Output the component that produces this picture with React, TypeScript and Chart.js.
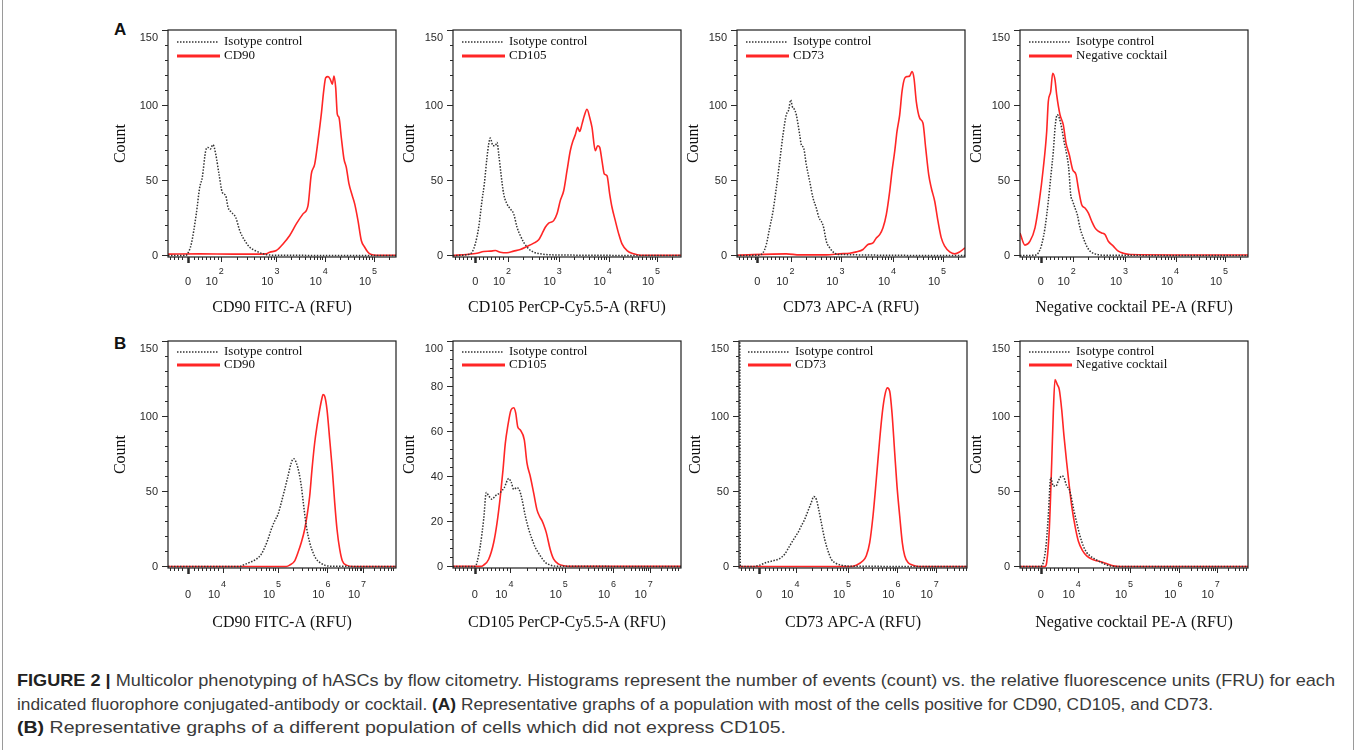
import React, { useEffect, useLayoutEffect, useRef } from "react";
import { Chart, registerables } from "chart.js";

Chart.register(...registerables);

// ---------------- DATA (x = display channel from left edge of plot, y = event count) ----------------
// Row A
const a1IsoX = [0, 16.7, 19, 23.3, 28.3, 31.7, 34.3, 37.7, 40, 42.3, 45, 47.7, 51, 54.3, 57.7, 60, 63.3, 67.7, 71.7, 76.7, 81.7, 88.3, 95, 105, 228];
const a1IsoY = [0, 0, 0.7, 7.7, 27.7, 45.3, 52, 69.7, 71.9, 70.8, 73.7, 67.5, 54.2, 42, 39.8, 32.1, 28.8, 25.4, 16.6, 10, 5.5, 2.9, 1.1, 0.2, 0];
const a1RedX = [0, 31.7, 65, 98.3, 101.7, 108.3, 115, 121.7, 128.3, 135, 140, 143.3, 146.7, 150, 153.3, 155.7, 157.7, 160, 162.3, 164.3, 166, 167.7, 169.3, 171, 173.3, 176, 178.3, 181, 184.3, 186.7, 190, 193.3, 196.7, 200, 203.3, 208.3, 228];
const a1RedY = [0.9, 1.1, 0.9, 1.1, 2.2, 3.3, 7.7, 13.3, 21, 27.7, 33.2, 54.2, 60.8, 76.3, 94, 109.5, 118.3, 119, 117.2, 113.9, 119.4, 111.7, 94, 91.8, 78.5, 64.1, 58.6, 47.6, 39.8, 34.3, 23.2, 10, 5.5, 2.2, 0.7, 0.2, 0.2];

const a2IsoX = [0, 15.7, 19, 22.3, 25.7, 29, 31.3, 34, 35.7, 37.3, 40, 42.3, 44, 45.7, 48, 50.7, 54, 57.3, 60.7, 64, 67.3, 70.7, 75.7, 80.7, 87.3, 100.7, 229];
const a2IsoY = [0, 0.7, 2.2, 7.7, 18.8, 36.5, 47.6, 65.3, 74.1, 78.1, 73, 73, 75.2, 67.5, 54.2, 40.9, 34.3, 31, 27.7, 18.8, 13.3, 8.8, 4.4, 2.2, 1.1, 0.4, 0];
const a2RedX = [0, 14, 24, 30.7, 37.3, 42.3, 47.3, 54, 60.7, 67.3, 74, 80.7, 85.7, 89, 92.3, 95.7, 100.7, 104, 107.3, 110.7, 114, 117.3, 120, 122.3, 124.7, 126.7, 129, 131.3, 134, 136.7, 139, 142.3, 144.7, 146.7, 149, 151.3, 154, 156.7, 159, 162.3, 165.7, 169, 174, 180.7, 187.3, 229];
const a2RedY = [0, 0.7, 1.5, 2.7, 2.9, 3.3, 2.2, 1.8, 2.9, 4, 6, 8.2, 10.4, 14.4, 18.8, 21.5, 23.2, 27.7, 36.5, 43.1, 56.4, 69.7, 76.3, 80.3, 85.2, 82.5, 87.4, 92.9, 97.3, 91.8, 85.2, 69.7, 73, 71.9, 63, 54.2, 53.1, 40.9, 32.1, 23.2, 14.4, 7.7, 3.3, 1.1, 0.2, 0.2];

const a3IsoX = [0, 21, 26, 29.3, 32.7, 36, 39.3, 42.7, 46, 49.3, 51.7, 53.7, 55.3, 57.7, 59.3, 62.7, 64.3, 66.7, 69.3, 72.7, 76, 79.3, 82, 84.3, 86.7, 89.3, 92.7, 96, 101, 228];
const a3IsoY = [0, 0.2, 1.8, 7.3, 18.4, 29.4, 44.9, 62.6, 80.3, 93.6, 96.9, 103.5, 99.1, 96.9, 93.6, 80.3, 73.7, 71.4, 60.4, 49.3, 38.3, 31.6, 25, 22.8, 18.4, 9.5, 5.1, 2.4, 0.7, 0];
const a3RedX = [0, 49.3, 62.7, 89.3, 102.7, 112.7, 119.3, 126, 131, 136, 139.3, 142.7, 146, 149.3, 152.7, 155, 157.7, 160, 162.7, 165, 167.7, 170, 172.7, 175, 177, 179.3, 182.7, 186, 188.7, 191.7, 194.3, 197.7, 201, 204.3, 207.7, 212.7, 217.7, 222.7, 228];
const a3RedY = [0.2, 1.1, 0.4, 0.4, 1.1, 1.5, 2.4, 4, 7.3, 8.4, 11.7, 13.9, 18.4, 27.2, 42.7, 56, 69.2, 82.5, 93.6, 109, 117.9, 119, 119.4, 122.3, 117.9, 102.4, 91.4, 88, 71.4, 53.8, 44.9, 36.1, 22.8, 11.7, 6.2, 2.4, 1.1, 2.4, 5.1];

const a4IsoX = [0, 15, 18.3, 21.7, 25, 28.3, 31, 33.3, 35.3, 37.3, 39.3, 41.7, 44, 46.7, 48.7, 50.7, 52.7, 55, 57.3, 60, 63.3, 66.7, 70, 75, 83.3, 228];
const a4IsoY = [0, 0.2, 1.8, 7.3, 18.4, 36.1, 53.8, 69.2, 86.9, 93.6, 91.4, 84.7, 75.9, 67, 58.2, 40.5, 36.1, 31.6, 27.2, 18.4, 11.7, 6.2, 2.9, 1.1, 0.2, 0];
const a4RedX = [0, 5, 10, 15, 19.3, 23.3, 26.7, 28.3, 30.7, 32.7, 35, 36.7, 40, 43.3, 46, 49.3, 52.7, 56, 58.3, 61.7, 65, 68.3, 71.7, 75, 78.3, 81.7, 85, 88.3, 93.3, 98.3, 103.3, 110, 228];
const a4RedY = [15, 6.9, 9.5, 18.4, 36.1, 58.2, 82.5, 102.4, 109, 121.2, 116.8, 106.8, 93.6, 86.9, 74.8, 67, 57.1, 53.8, 44.9, 33.8, 31.6, 28.3, 22.8, 18.4, 16.2, 15, 13.9, 9.5, 6.2, 2.9, 1.5, 0.7, 0.3];

// Row B
const b1IsoX = [0, 71.7, 75, 81.7, 88.3, 93.3, 96.7, 100, 103.3, 106.7, 110, 113.3, 116.7, 120, 123.3, 125.7, 128.3, 131, 133.3, 135.7, 138.3, 141.7, 145, 148.3, 151.7, 156.7, 161.7, 228];
const b1IsoY = [0, 0, 0.9, 2.7, 4.9, 8.2, 12.6, 18.1, 24.8, 30.3, 34.7, 42.5, 51.3, 60.2, 69, 71.7, 69, 62.4, 53.5, 40.3, 27, 15.9, 9.3, 4.9, 2.7, 0.9, 0.2, 0];
const b1RedX = [0, 118.3, 121.7, 126.7, 130, 133.3, 136.7, 139, 141.7, 144, 146.7, 149, 151.7, 154, 155, 156.7, 159, 161.7, 164.3, 166.7, 169, 171.7, 174.3, 178.3, 185, 228];
const b1RedY = [0, 0, 0.9, 3.8, 9.3, 15.9, 24.8, 33.6, 46.9, 64.6, 82.3, 93.3, 104.4, 112.1, 114.4, 113.3, 104.4, 84.5, 64.6, 42.5, 24.8, 11.5, 3.8, 0.9, 0, 0];

const b2IsoX = [0, 22.3, 24, 27.3, 30.7, 33.3, 35.7, 39, 42.3, 47.3, 51.3, 55.7, 58.3, 60.7, 64, 66.7, 69, 72.3, 75.7, 79, 82.3, 87.3, 92.3, 97.3, 104, 229];
const b2IsoY = [0, 0, 1.8, 9.2, 21, 32.8, 31.3, 29.8, 31.3, 32.8, 35, 39, 37.2, 34.2, 35, 33.5, 29.8, 22.4, 16.5, 12.1, 8.4, 4.7, 1.8, 0.6, 0.1, 0];
const b2RedX = [0, 27.3, 30.7, 35.7, 40.7, 44, 47.3, 50, 52.3, 54.7, 58, 60.7, 62.7, 64.7, 67.3, 71.3, 74, 77.3, 80.7, 84, 86.7, 89, 90.7, 93.3, 97.3, 100.7, 105.7, 110.7, 117.3, 229];
const b2RedY = [0, 0, 0.6, 3.2, 10.6, 19.2, 31, 42.8, 54.6, 62, 69.4, 70.4, 68.1, 62, 60.5, 56.1, 45.8, 39.9, 32.5, 25.1, 22.1, 20.3, 18.5, 15, 7.4, 3.2, 1, 0.3, 0, 0];

const b3IsoX = [0.8, 1.3, 14, 20.7, 27.3, 34, 40.7, 45.7, 50.7, 55.7, 59, 62.3, 65.7, 69, 72.3, 74.7, 77.3, 80, 82.3, 85.7, 89, 92.3, 97.3, 102.3, 110.7, 229];
const b3IsoY = [155, 0, 0, 0.9, 2.7, 3.8, 5.3, 8.2, 13.7, 19.2, 22.6, 27, 31.4, 37, 42.5, 46.5, 44.7, 37, 29.2, 18.1, 10.4, 4.9, 2, 0.9, 0.2, 0];
const b3RedX = [0, 110.7, 117.3, 124, 127.3, 130.7, 134, 137.3, 140.7, 143.3, 145.7, 148.3, 150.7, 153, 155.7, 158, 160.7, 163.3, 165.7, 169, 174, 180.7, 229];
const b3RedY = [0, 0, 0.9, 3.8, 7.1, 15.9, 33.6, 57.9, 84.5, 102.2, 113.3, 118.8, 116.6, 102.2, 75.7, 53.5, 33.6, 15.9, 7.1, 2.7, 0.9, 0, 0];

const b4IsoX = [0, 20.7, 23.3, 26, 28.3, 30.7, 33.3, 36, 38.3, 41.7, 44, 46.7, 49.3, 51.7, 54, 56.7, 60, 63.3, 66.7, 70, 75, 80, 85, 90, 96.7, 228];
const b4IsoY = [0, 0, 2.7, 13.7, 33.6, 59.1, 53.5, 53.5, 56.9, 60.2, 59.1, 53.5, 51.3, 44.7, 37, 29.2, 20.3, 13.7, 9.3, 7.1, 4.9, 3.1, 1.5, 0.4, 0, 0];
const b4RedX = [0, 25, 26.7, 29.3, 31.7, 33.3, 35, 37.3, 39.3, 41.7, 44, 46.7, 49.3, 51.7, 55, 58.3, 62.7, 66.7, 71.7, 76.7, 83.3, 88.3, 93.3, 100, 228];
const b4RedY = [0, 0, 2.7, 24.8, 69, 102.2, 124.3, 121, 117.7, 104.4, 86.7, 69, 53.5, 40.3, 27, 17, 10.4, 7.1, 4.9, 3.8, 2.7, 1.5, 0.4, 0, 0];

// x-axis tick positions (channels) and labels
const rowATickLabels = ["0", "10^2", "10^3", "10^4", "10^5"];
const rowBTickLabels = ["0", "10^4", "10^5", "10^6", "10^7"];
const a1Ticks = [20, 52.7, 108.3, 156.7, 206];
const a2Ticks = [22.3, 55, 105.7, 155.7, 204];
const a3Ticks = [20.3, 54.3, 104.3, 156, 206];
const a4Ticks = [20.7, 52.7, 105, 156, 205];
const b1Ticks = [20, 55, 110, 159.3, 195];
const b2Ticks = [21.7, 57.3, 111.7, 160, 196.7];
const b3Ticks = [20, 57.3, 109, 158.3, 196.7];
const b4Ticks = [20.7, 57.7, 110, 159.3, 196.7];

const markers = ["CD90", "CD105", "CD73", "Negative cocktail"];
const axisTitles = ["CD90 FITC-A (RFU)", "CD105 PerCP-Cy5.5-A (RFU)", "CD73 APC-A (RFU)", "Negative cocktail PE-A (RFU)"];
const isoLabel = "Isotype control";

const captionLines = [
  [["FIGURE 2 |", true], [" Multicolor phenotyping of hASCs by flow citometry. Histograms represent the number of events (count) vs. the relative fluorescence units (FRU) for each", false]],
  [["indicated fluorophore conjugated-antibody or cocktail. ", false], ["(A)", true], [" Representative graphs of a population with most of the cells positive for CD90, CD105, and CD73.", false]],
  [["(B)", true], [" Representative graphs of a different population of cells which did not express CD105.", false]],
] as [string, boolean][][];
const captionWidths = [1318, 1196, 769];

// ---------------- PANELS ----------------
type Panel = {
  boxLeft: number; boxTop: number; boxW: number; boxH: number;
  yMin: number; yMax: number; yMajor: number; yMinor: number;
  ticks: number[]; tickLabels: string[];
  title: string; marker: string;
  isoX: number[]; isoY: number[]; redX: number[]; redY: number[];
  countGap: number; labelDy: number; expDy: number; titleDy: number; legDy1: number; legDy2: number;
};

const RED = "#ff2626";
const ISO = "#333333";

const rowA = { boxTop: 30, labelDy: 25, expDy: 15, titleDy: 51, legDy1: 12, legDy2: 26 };
const rowB = { boxTop: 341, labelDy: 27, expDy: 17, titleDy: 55, legDy1: 11, legDy2: 24 };
const colLefts = [[168, 453, 737, 1020], [168, 453, 739, 1020]];
const countGaps = [47, 43, 43, 43];

const panels: Panel[] = [
  { ...rowA, boxLeft: colLefts[0][0], boxW: 228, boxH: 227, yMin: -1, yMax: 150, yMajor: 50, yMinor: 10, ticks: a1Ticks, tickLabels: rowATickLabels, title: axisTitles[0], marker: markers[0], isoX: a1IsoX, isoY: a1IsoY, redX: a1RedX, redY: a1RedY, countGap: countGaps[0] },
  { ...rowA, boxLeft: colLefts[0][1], boxW: 228, boxH: 227, yMin: -1, yMax: 150, yMajor: 50, yMinor: 10, ticks: a2Ticks, tickLabels: rowATickLabels, title: axisTitles[1], marker: markers[1], isoX: a2IsoX, isoY: a2IsoY, redX: a2RedX, redY: a2RedY, countGap: countGaps[1] },
  { ...rowA, boxLeft: colLefts[0][2], boxW: 228, boxH: 227, yMin: -1, yMax: 150, yMajor: 50, yMinor: 10, ticks: a3Ticks, tickLabels: rowATickLabels, title: axisTitles[2], marker: markers[2], isoX: a3IsoX, isoY: a3IsoY, redX: a3RedX, redY: a3RedY, countGap: countGaps[2] },
  { ...rowA, boxLeft: colLefts[0][3], boxW: 228, boxH: 227, yMin: -1, yMax: 150, yMajor: 50, yMinor: 10, ticks: a4Ticks, tickLabels: rowATickLabels, title: axisTitles[3], marker: markers[3], isoX: a4IsoX, isoY: a4IsoY, redX: a4RedX, redY: a4RedY, countGap: countGaps[3] },
  { ...rowB, boxLeft: colLefts[1][0], boxW: 228, boxH: 227, yMin: -1, yMax: 150, yMajor: 50, yMinor: 10, ticks: b1Ticks, tickLabels: rowBTickLabels, title: axisTitles[0], marker: markers[0], isoX: b1IsoX, isoY: b1IsoY, redX: b1RedX, redY: b1RedY, countGap: countGaps[0] },
  { ...rowB, boxLeft: colLefts[1][1], boxW: 228, boxH: 227, yMin: -0.7, yMax: 100, yMajor: 20, yMinor: 4, ticks: b2Ticks, tickLabels: rowBTickLabels, title: axisTitles[1], marker: markers[1], isoX: b2IsoX, isoY: b2IsoY, redX: b2RedX, redY: b2RedY, countGap: countGaps[1] },
  { ...rowB, boxLeft: colLefts[1][2], boxW: 228, boxH: 227, yMin: -1, yMax: 150, yMajor: 50, yMinor: 10, ticks: b3Ticks, tickLabels: rowBTickLabels, title: axisTitles[2], marker: markers[2], isoX: b3IsoX, isoY: b3IsoY, redX: b3RedX, redY: b3RedY, countGap: countGaps[2] },
  { ...rowB, boxLeft: colLefts[1][3], boxW: 228, boxH: 227, yMin: -1, yMax: 150, yMajor: 50, yMinor: 10, ticks: b4Ticks, tickLabels: rowBTickLabels, title: axisTitles[3], marker: markers[3], isoX: b4IsoX, isoY: b4IsoY, redX: b4RedX, redY: b4RedY, countGap: countGaps[3] },
];

const PAD = { left: 70, top: 24, right: 6, bottom: 70 };
const SANS = "'Liberation Sans', Arial, Helvetica, sans-serif";
const SERIF = "'Liberation Serif', 'Times New Roman', serif";

function makeDecor(p: Panel) {
  return {
    id: "decor",
    afterDraw(chart: any) {
      const ctx: CanvasRenderingContext2D = chart.ctx;
      const ca = chart.chartArea;
      const xs = chart.scales.x;
      const ys = chart.scales.y;
      const L = ca.left, R = ca.right, T = ca.top, B = ca.bottom;
      ctx.save();
      // frame
      ctx.strokeStyle = "#1e1e1e";
      ctx.lineWidth = 1.2;
      ctx.strokeRect(L, T, R - L, B - T);

      // y ticks
      ctx.lineWidth = 1;
      ctx.strokeStyle = "#2a2a2a";
      ctx.fillStyle = "#2a2a2a";
      ctx.font = `11px ${SANS}`;
      ctx.textAlign = "right";
      ctx.textBaseline = "middle";
      for (let v = 0; v <= p.yMax + 1e-6; v += p.yMinor) {
        const py = Math.round(ys.getPixelForValue(v)) + 0.5;
        const major = Math.abs(v % p.yMajor) < 1e-6;
        ctx.beginPath();
        ctx.moveTo(L - (major ? 6 : 3), py);
        ctx.lineTo(L, py);
        ctx.stroke();
        if (major) ctx.fillText(String(v), L - 10, v >= p.yMax - 1e-6 ? py + 7 : py);
      }

      // x ticks
      const decades = p.ticks.slice(1);
      const minors: number[] = [];
      for (let i = 0; i < decades.length; i++) {
        const a = decades[i];
        const w = i < decades.length - 1 ? decades[i + 1] - a : decades[i] - decades[i - 1];
        for (let m = 2; m <= 9; m++) {
          const v = a + Math.log10(m) * w;
          if (v < xs.max - 1) minors.push(v);
        }
      }
      for (let v = 2; v < decades[0] - 2; v += 4) {
        if (Math.abs(v - p.ticks[0]) > 2) minors.push(v);
      }
      ctx.lineWidth = 1;
      for (const v of minors) {
        const px = Math.round(xs.getPixelForValue(v)) + 0.5;
        ctx.beginPath();
        ctx.moveTo(px, B);
        ctx.lineTo(px, B + 3);
        ctx.stroke();
      }
      for (let i = 0; i < p.ticks.length; i++) {
        const px = Math.round(xs.getPixelForValue(p.ticks[i])) + 0.5;
        ctx.lineWidth = i === 0 ? 2.5 : 1;
        ctx.beginPath();
        ctx.moveTo(px, B);
        ctx.lineTo(px, B + (i === 0 ? 6 : 5));
        ctx.stroke();
      }
      // x labels
      ctx.textBaseline = "middle";
      for (let i = 0; i < p.ticks.length; i++) {
        const px = xs.getPixelForValue(p.ticks[i]);
        const lab = p.tickLabels[i];
        if (!lab.includes("^")) {
          ctx.font = `11px ${SANS}`;
          ctx.textAlign = "center";
          ctx.fillText(lab, px, B + p.labelDy);
        } else {
          const [base, exp] = lab.split("^");
          ctx.font = `11px ${SANS}`;
          const wb = ctx.measureText(base).width;
          ctx.font = `9px ${SANS}`;
          const we = ctx.measureText(exp).width;
          const cx = px - 6;
          const start = cx - (wb + we + 1) / 2;
          ctx.textAlign = "left";
          ctx.font = `11px ${SANS}`;
          ctx.fillText(base, start, B + p.labelDy);
          ctx.font = `9px ${SANS}`;
          ctx.fillText(exp, start + wb + 1, B + p.expDy);
        }
      }

      // axis titles
      ctx.fillStyle = "#111";
      ctx.font = `16px ${SERIF}`;
      ctx.textAlign = "center";
      ctx.textBaseline = "middle";
      ctx.fillText(p.title, (L + R) / 2, B + p.titleDy);
      ctx.save();
      ctx.translate(L - p.countGap, (T + B) / 2);
      ctx.rotate(-Math.PI / 2);
      ctx.fillText("Count", 0, 0);
      ctx.restore();

      // legend
      const lx1 = L + 9, lx2 = L + 50;
      ctx.strokeStyle = ISO;
      ctx.lineWidth = 1.6;
      ctx.setLineDash([1.5, 1.5]);
      ctx.beginPath();
      ctx.moveTo(lx1, T + p.legDy1);
      ctx.lineTo(lx2, T + p.legDy1);
      ctx.stroke();
      ctx.setLineDash([]);
      ctx.strokeStyle = RED;
      ctx.lineWidth = 3;
      ctx.beginPath();
      ctx.moveTo(lx1, T + p.legDy2);
      ctx.lineTo(lx2 + 2, T + p.legDy2);
      ctx.stroke();
      ctx.fillStyle = "#111";
      ctx.font = `13px ${SERIF}`;
      ctx.textAlign = "left";
      ctx.fillText(isoLabel, L + 56, T + p.legDy1);
      ctx.fillText(p.marker, L + 56, T + p.legDy2);
      ctx.restore();
    },
  };
}

function HistPanel({ p }: { p: Panel }) {
  const ref = useRef<HTMLCanvasElement | null>(null);
  const width = PAD.left + p.boxW + PAD.right;
  const height = PAD.top + p.boxH + PAD.bottom;
  useEffect(() => {
    if (!ref.current) return;
    const iso = p.isoX.map((x, i) => ({ x, y: p.isoY[i] }));
    const red = p.redX.map((x, i) => ({ x, y: p.redY[i] }));
    const chart = new Chart(ref.current, {
      type: "line",
      data: {
        datasets: [
          { label: isoLabel, data: iso, borderColor: ISO, borderWidth: 1.5, borderDash: [1.5, 1.5], pointRadius: 0, fill: false, cubicInterpolationMode: "monotone", clip: 0 } as any,
          { label: p.marker, data: red, borderColor: RED, borderWidth: 1.6, pointRadius: 0, fill: false, cubicInterpolationMode: "monotone", clip: 0 } as any,
        ],
      },
      options: {
        animation: false,
        responsive: false,
        events: [],
        layout: { padding: PAD },
        plugins: { legend: { display: false }, tooltip: { enabled: false }, title: { display: false } },
        scales: {
          x: { type: "linear", min: 0, max: p.boxW, display: false },
          y: { type: "linear", min: p.yMin, max: p.yMax, display: false },
        },
      },
      plugins: [makeDecor(p)],
    });
    return () => chart.destroy();
  }, [p]);
  return (
    <canvas
      ref={ref}
      width={width}
      height={height}
      style={{ position: "absolute", left: p.boxLeft - PAD.left, top: p.boxTop - PAD.top, width, height }}
    />
  );
}

function CaptionLine({ parts, target, top }: { parts: [string, boolean][]; target: number; top: number }) {
  const ref = useRef<HTMLDivElement | null>(null);
  useLayoutEffect(() => {
    const el = ref.current;
    if (!el) return;
    el.style.transform = "none";
    const w = el.getBoundingClientRect().width;
    if (w > 0) el.style.transform = `scaleX(${target / w})`;
  }, [target]);
  return (
    <div
      ref={ref}
      style={{
        position: "absolute",
        left: 17,
        top,
        whiteSpace: "nowrap",
        fontFamily: SANS,
        fontSize: 17,
        lineHeight: "20px",
        color: "#333",
        transformOrigin: "left center",
        display: "inline-block",
      }}
    >
      {parts.map(([t, b], i) => (
        <span key={i} style={{ fontWeight: b ? 700 : 400, color: b ? "#222" : "#3a3a3a" }}>{t}</span>
      ))}
    </div>
  );
}

export default function App() {
  return (
    <div style={{ position: "absolute", left: 0, top: 0, width: 1358, height: 750, background: "#fff", overflow: "hidden" }}>
      <div style={{ position: "absolute", left: 2, top: -2, width: 1352, height: 760, border: "1px solid #9a9a9a", boxSizing: "border-box" }} />
      <div style={{ position: "absolute", left: 114, top: 20, fontFamily: SANS, fontWeight: 700, fontSize: 17, color: "#111" }}>A</div>
      <div style={{ position: "absolute", left: 114, top: 334, fontFamily: SANS, fontWeight: 700, fontSize: 17, color: "#111" }}>B</div>
      {panels.map((p, i) => (
        <HistPanel key={i} p={p} />
      ))}
      {captionLines.map((parts, i) => (
        <CaptionLine key={i} parts={parts} target={captionWidths[i]} top={[671, 695, 718][i]} />
      ))}
    </div>
  );
}
